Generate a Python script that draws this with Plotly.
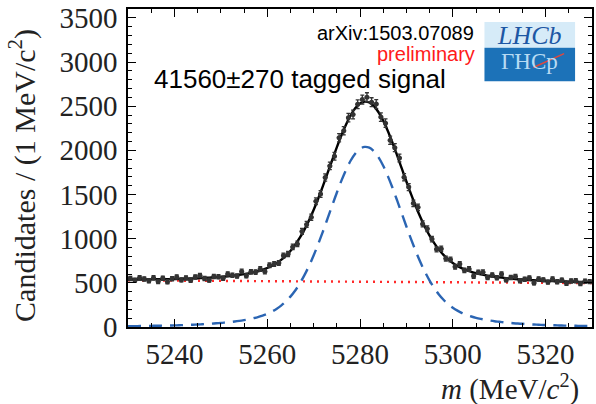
import numpy as np
import plotly.graph_objects as go

# B-candidate invariant mass, 1 MeV bins from 5230 to 5330 MeV/c^2
BIN_LO = 5230
BIN_HI = 5330
COUNTS = [549, 530, 558, 543, 524, 557, 515, 551, 512, 547,
          566, 533, 555, 528, 565, 583, 550, 530, 572, 568,
          552, 600, 586, 577, 629, 581, 625, 622, 657, 627,
          699, 714, 725, 809, 826, 907, 941, 1082, 1161, 1243,
          1423, 1506, 1692, 1824, 1932, 2143, 2222, 2370, 2406, 2522,
          2575, 2601, 2545, 2524, 2376, 2307, 2114, 2030, 1914, 1696,
          1584, 1400, 1355, 1167, 1112, 995, 881, 885, 775, 764,
          682, 712, 642, 657, 576, 620, 621, 559, 588, 557,
          599, 533, 560, 571, 524, 540, 554, 499, 544, 534,
          509, 544, 512, 531, 494, 521, 524, 492, 519, 514]

# Fit projections sampled at integer masses 5230..5330
FIT_TOTAL = [537, 538, 537, 538, 539, 539, 540, 541, 542, 542,
             543, 545, 546, 548, 550, 551, 554, 557, 560, 564,
             568, 572, 577, 584, 591, 598, 607, 619, 631, 648,
             668, 692, 722, 760, 805, 861, 928, 1008, 1100, 1206,
             1325, 1455, 1595, 1741, 1888, 2034, 2171, 2293, 2398, 2478,
             2530, 2551, 2542, 2501, 2431, 2336, 2219, 2086, 1943, 1795,
             1647, 1504, 1369, 1244, 1132, 1034, 950, 876, 816, 766,
             724, 691, 664, 641, 624, 609, 596, 586, 577, 569,
             562, 556, 551, 545, 541, 538, 533, 530, 528, 524,
             522, 520, 518, 516, 515, 514, 512, 511, 510, 508, 508]
FIT_SIGNAL = [9, 10, 10, 11, 12, 13, 14, 15, 16, 17,
              18, 20, 22, 24, 26, 28, 31, 34, 38, 42,
              46, 51, 56, 63, 70, 78, 87, 99, 112, 129,
              149, 174, 204, 242, 288, 344, 411, 491, 584, 690,
              809, 940, 1080, 1226, 1374, 1520, 1657, 1780, 1885, 1965,
              2017, 2039, 2030, 1989, 1920, 1825, 1708, 1576, 1433, 1285,
              1138, 995, 860, 736, 624, 526, 442, 369, 309, 259,
              218, 185, 158, 136, 119, 104, 92, 82, 73, 65,
              59, 53, 48, 43, 39, 36, 32, 29, 27, 24,
              22, 20, 19, 17, 16, 15, 14, 13, 12, 11, 11]
# Linear combinatorial background, endpoints of the range
BKG_MASS = [5230, 5330]
BKG_VALUE = [528, 497]

X_TICKS = [5240, 5260, 5280, 5300, 5320]
Y_TICKS = [0, 500, 1000, 1500, 2000, 2500, 3000, 3500]

counts = np.array(COUNTS)
centers = np.arange(BIN_LO, BIN_HI) + 0.5
fit_mass = np.arange(BIN_LO, BIN_HI + 1)

fig = go.Figure()

fig.add_trace(go.Scatter(
    x=BKG_MASS, y=BKG_VALUE, mode="lines",
    line=dict(color="#ff2a2a", width=2.4, dash="2px,5px"),
    hoverinfo="skip"))
fig.add_trace(go.Scatter(
    x=fit_mass, y=FIT_SIGNAL, mode="lines",
    line=dict(color="#2b65b3", width=2.4, dash="13px,8px", shape="spline"),
    hoverinfo="skip"))
fig.add_trace(go.Scatter(
    x=fit_mass, y=FIT_TOTAL, mode="lines",
    line=dict(color="black", width=2.4, shape="spline"),
    hoverinfo="skip"))
fig.add_trace(go.Scatter(
    x=centers, y=counts, mode="markers",
    marker=dict(symbol="circle", size=5, color="#333333"),
    error_y=dict(type="data", array=np.sqrt(counts), thickness=1.3,
                 width=2, color="#333333"),
    error_x=dict(type="constant", value=0.5, thickness=1.3, width=0,
                 color="#333333")))

serif = "Liberation Serif"
axis_common = dict(
    showline=True, linecolor="black", linewidth=1.5, mirror="ticks",
    ticks="inside", ticklen=8, tickwidth=1.3, tickcolor="black",
    showgrid=False, zeroline=False, ticklabeloverflow="allow",
    tickfont=dict(family=serif, size=29, color="#222222"),
)
fig.update_xaxes(range=[BIN_LO, BIN_HI], tickvals=X_TICKS,
                 ticktext=[str(v) for v in X_TICKS],
                 minor=dict(dtick=5, tick0=BIN_LO, ticks="inside", ticklen=4,
                            tickwidth=1.2, tickcolor="black"),
                 ticklabelstandoff=0, **axis_common)
fig.update_yaxes(range=[0, 3600], tickvals=Y_TICKS,
                 ticktext=[str(v) for v in Y_TICKS],
                 minor=dict(dtick=100, tick0=0, ticks="inside", ticklen=4,
                            tickwidth=1.2, tickcolor="black"),
                 ticklabelstandoff=3, **axis_common)

L, R, T, B = 128, 2, 6, 77
W, H = 596, 404
pw, ph = W - L - R, H - T - B


def px(x):
    return (x - L) / pw


def py(y):
    return (H - B - y) / ph


annotations = [
    dict(text="Candidates / (1 MeV/c<sup>2</sup>)", textangle=-90,
         x=px(22), y=py(174), xanchor="center", yanchor="middle",
         font=dict(family=serif, size=30, color="#222222")),
    dict(text="<i>m</i> (MeV/<i>c</i><sup>2</sup>)",
         x=px(583), y=py(388), xanchor="right", yanchor="middle",
         font=dict(family=serif, size=29, color="#222222")),
    dict(text="41560±270 tagged signal",
         x=px(152), y=py(77), xanchor="left", yanchor="middle",
         font=dict(family="Liberation Sans", size=26, color="black")),
    dict(text="arXiv:1503.07089",
         x=px(478), y=py(30), xanchor="right", yanchor="middle",
         font=dict(family="Liberation Sans", size=20, color="black")),
    dict(text="preliminary",
         x=px(479), y=py(51), xanchor="right", yanchor="middle",
         font=dict(family="Liberation Sans", size=20, color="#ff1a1a")),
    # experiment logo: wordmark and its reflection
    dict(text="<i>LHCb</i>",
         x=px(531), y=py(33), xanchor="center", yanchor="middle",
         font=dict(family=serif, size=26, color="#1d57a4")),
    dict(text="ΓHCp",
         x=px(531), y=py(59), xanchor="center", yanchor="middle",
         font=dict(family=serif, size=23, color="#b7dbf3")),
]
for a in annotations:
    a.update(xref="paper", yref="paper", showarrow=False)

shapes = [
    dict(type="rect", x0=px(486), x1=px(577), y0=py(45), y1=py(19),
         fillcolor="#d6ebf8", line=dict(width=0), layer="below"),
    dict(type="rect", x0=px(486), x1=px(577), y0=py(79), y1=py(45),
         fillcolor="#1c72b8", line=dict(width=0), layer="below"),
    dict(type="line", x0=px(535), y0=py(65), x1=px(566), y1=py(51),
         line=dict(color="#e0483e", width=1.5)),
]
for s in shapes:
    s.update(xref="paper", yref="paper")

fig.update_layout(
    width=W, height=H,
    margin=dict(l=L, r=R, t=T, b=B),
    paper_bgcolor="white", plot_bgcolor="white",
    showlegend=False,
    annotations=annotations, shapes=shapes,
)

fig.write_html("out.html")
